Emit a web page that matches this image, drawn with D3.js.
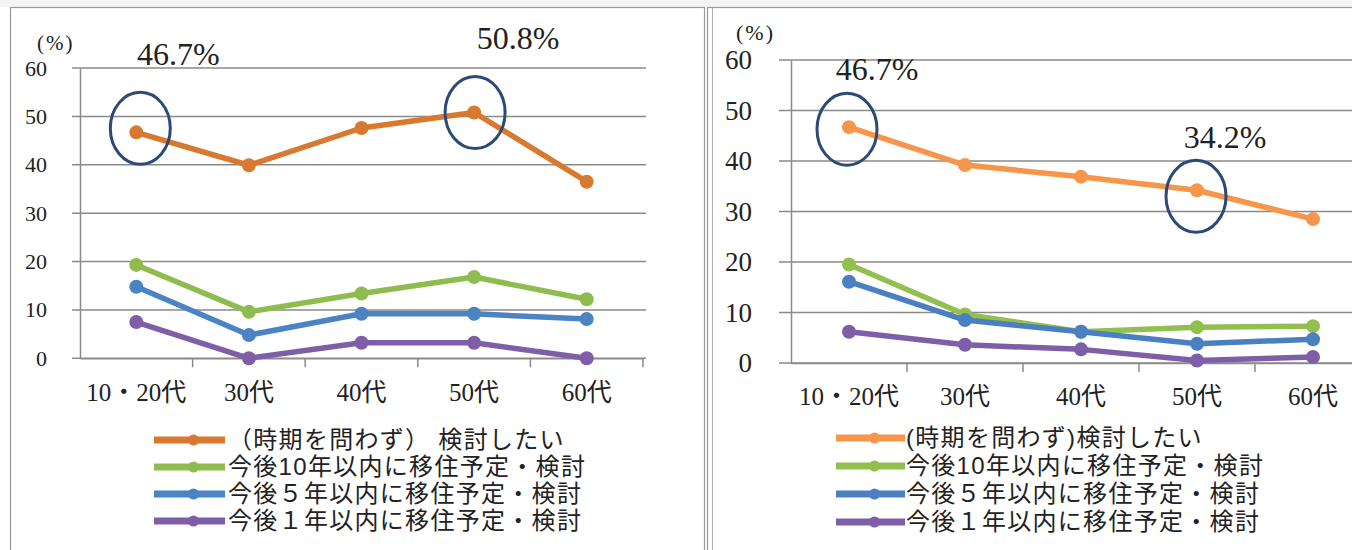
<!DOCTYPE html>
<html>
<head>
<meta charset="utf-8">
<script src="https://cdn.jsdelivr.net/npm/d3@7"></script>
<style>
  html, body { margin: 0; padding: 0; background: #ffffff; }
  svg { display: block; }
  text { fill: #222; }
  .serif { font-family: "Liberation Serif", "Times New Roman", "DejaVu Serif", "Noto Sans CJK JP", serif; }
  .legend-text { font-family: "Liberation Sans", "Noto Sans CJK JP", sans-serif; }
</style>
</head>
<body>
<svg id="chart" width="1352" height="550"></svg>
<script>
// Age groups on the x axis
const categories = ["10・20代", "30代", "40代", "50代", "60代"];
const yTicks = [0, 10, 20, 30, 40, 50, 60];

// Series labels (the two surveys word the first one slightly differently)
const leftNames = ["（時期を問わず） 検討したい", "今後10年以内に移住予定・検討", "今後５年以内に移住予定・検討", "今後１年以内に移住予定・検討"];
const rightNames = ["(時期を問わず)検討したい", "今後10年以内に移住予定・検討", "今後５年以内に移住予定・検討", "今後１年以内に移住予定・検討"];

// Left survey (%)
const leftAnyTime = [46.7, 39.9, 47.6, 50.8, 36.5];
const leftWithin10 = [19.3, 9.6, 13.4, 16.8, 12.2];
const leftWithin5 = [14.8, 4.8, 9.2, 9.2, 8.1];
const leftWithin1 = [7.5, 0.0, 3.2, 3.2, 0.0];

// Right survey (%)
const rightAnyTime = [46.7, 39.2, 36.9, 34.2, 28.5];
const rightWithin10 = [19.5, 9.6, 6.2, 7.1, 7.3];
const rightWithin5 = [16.1, 8.5, 6.2, 3.8, 4.7];
const rightWithin1 = [6.2, 3.6, 2.7, 0.5, 1.2];

// Points on the first series that get circled and labelled
const leftHighlights = [0, 3];
const rightHighlights = [0, 3];

const svg = d3.select("#chart");

// Panel frames
svg.append("rect").attr("x", 0).attr("y", 0).attr("width", 1352).attr("height", 7).attr("fill", "#f4f4f4");
svg.append("rect").attr("x", 10.5).attr("y", 7.5).attr("width", 694).attr("height", 560)
  .attr("fill", "#fff").attr("stroke", "#9a9a9a").attr("stroke-width", 1.2);
svg.append("rect").attr("x", 707.5).attr("y", 7.5).attr("width", 700).attr("height", 560)
  .attr("fill", "#fff").attr("stroke", "#9a9a9a").attr("stroke-width", 1.2);
svg.append("line").attr("x1", 712.5).attr("x2", 712.5).attr("y1", 7.5).attr("y2", 550)
  .attr("stroke", "#b0b0b0").attr("stroke-width", 1);

function drawPanel(cfg) {
  const g = svg.append("g");
  const x = d3.scaleBand().domain(categories).range([cfg.x0, cfg.x1]).padding(0);
  const y = d3.scaleLinear().domain([0, 60]).range([cfg.yBottom, cfg.yTop]);
  const cx = c => x(c) + x.bandwidth() / 2;

  // horizontal gridlines
  g.selectAll(".grid").data(yTicks).join("line")
    .attr("x1", cfg.x0 - cfg.tickLen).attr("x2", cfg.gridEnd)
    .attr("y1", d => y(d)).attr("y2", d => y(d))
    .attr("stroke", "#8a8a8a").attr("stroke-width", 1.5);

  // y axis
  const yAxis = d3.axisLeft(y).tickValues(yTicks).tickSize(0).tickPadding(cfg.x0 - cfg.yLabelRight);
  const ya = g.append("g").attr("transform", `translate(${cfg.x0},0)`).call(yAxis);
  ya.attr("font-family", null).attr("font-size", null);
  ya.select(".domain").attr("stroke", "#8a8a8a").attr("stroke-width", 1.5);
  ya.selectAll("text").attr("class", "serif").attr("font-size", cfg.yFont).attr("fill", "#222");

  // x axis: ticks at category boundaries
  const xa = g.append("g").attr("transform", `translate(0,${cfg.yBottom})`)
    .call(d3.axisBottom(x).tickSize(0).tickFormat(""));
  xa.select(".domain").attr("stroke", "#8a8a8a").attr("stroke-width", 1.5);
  const bounds = categories.map(c => x(c)).concat([cfg.x1]).slice(1);
  xa.selectAll(".bound").data(bounds).join("line")
    .attr("x1", d => d).attr("x2", d => d).attr("y1", 0).attr("y2", 9)
    .attr("stroke", "#8a8a8a").attr("stroke-width", 1.5);
  g.selectAll(".cat").data(categories).join("text")
    .attr("class", "serif")
    .attr("x", d => cx(d)).attr("y", cfg.catY)
    .attr("text-anchor", "middle").attr("font-size", cfg.catFont)
    .text(d => d);

  // unit label
  g.append("text").attr("class", "serif").attr("x", cfg.unitX).attr("y", cfg.unitY)
    .attr("font-size", cfg.unitFont).attr("letter-spacing", 2).text("(%)");

  // series lines with round markers
  const line = d3.line().x((d, i) => cx(categories[i])).y(d => y(d));
  cfg.series.forEach((s, k) => {
    const sg = g.append("g");
    sg.append("path").datum(s.values).attr("d", line)
      .attr("fill", "none").attr("stroke", s.color).attr("stroke-width", cfg.lineW)
      .attr("stroke-linejoin", "round");
    sg.selectAll("circle").data(s.values).join("circle")
      .attr("cx", (d, i) => cx(categories[i])).attr("cy", d => y(d))
      .attr("r", cfg.markR).attr("fill", s.color);
  });

  // callouts on the first series
  const first = cfg.series[0].values;
  cfg.highlights.forEach((i, n) => {
    const px = cx(categories[i]), py = y(first[i]);
    g.append("ellipse").attr("cx", px + cfg.ellDx[n]).attr("cy", py + cfg.ellDy[n])
      .attr("rx", 30).attr("ry", 36)
      .attr("fill", "none").attr("stroke", "#2c4a78").attr("stroke-width", 3);
    g.append("text").attr("class", "serif").attr("x", px + cfg.labDx[n]).attr("y", py + cfg.labDy[n])
      .attr("text-anchor", "middle").attr("font-size", cfg.calloutFont)
      .text(d3.format(".1f")(first[i]) + "%");
  });

  // legend
  const lg = g.append("g");
  cfg.series.forEach((s, k) => {
    const ly = cfg.legendY[k];
    lg.append("line").attr("x1", cfg.legX0).attr("x2", cfg.legX1).attr("y1", ly).attr("y2", ly)
      .attr("stroke", s.color).attr("stroke-width", 7);
    lg.append("circle").attr("cx", (cfg.legX0 + cfg.legX1) / 2 + 4).attr("cy", ly).attr("r", 5.5)
      .attr("fill", s.color);
    lg.append("text").attr("class", "legend-text").attr("x", cfg.legTextX).attr("y", ly + 8)
      .attr("font-size", cfg.legFont).attr("letter-spacing", 1.3)
      .text(s.name);
  });
}

const leftColors = ["#d9792f", "#8fbc4e", "#4a84c4", "#7e5ea6"];
const rightColors = ["#f7954a", "#93bf4f", "#4a80c2", "#7e5ea6"];

drawPanel({
  x0: 80, x1: 643, gridEnd: 646, yTop: 68, yBottom: 358.3, tickLen: 8,
  yLabelRight: 47, yFont: 22, catY: 401, catFont: 25,
  unitX: 37, unitY: 50, unitFont: 21,
  lineW: 5.5, markR: 7, calloutFont: 32,
  highlights: leftHighlights, ellDx: [4, 1], ellDy: [-4, 0], labDx: [42, 44], labDy: [-67, -64],
  legendY: [440, 467, 494, 521], legX0: 154, legX1: 225, legTextX: 228, legFont: 24,
  series: [
    { name: leftNames[0], values: leftAnyTime, color: leftColors[0] },
    { name: leftNames[1], values: leftWithin10, color: leftColors[1] },
    { name: leftNames[2], values: leftWithin5, color: leftColors[2] },
    { name: leftNames[3], values: leftWithin1, color: leftColors[3] }
  ]
});

drawPanel({
  x0: 791, x1: 1371, gridEnd: 1352, yTop: 60, yBottom: 363, tickLen: 12,
  yLabelRight: 752, yFont: 27, catY: 405, catFont: 25,
  unitX: 736, unitY: 40, unitFont: 22,
  lineW: 5.5, markR: 7, calloutFont: 32,
  highlights: rightHighlights, ellDx: [-2, -1], ellDy: [2, 6], labDx: [28, 28], labDy: [-47, -42],
  legendY: [438, 466, 494, 522], legX0: 836, legX1: 905, legTextX: 906, legFont: 24,
  series: [
    { name: rightNames[0], values: rightAnyTime, color: rightColors[0] },
    { name: rightNames[1], values: rightWithin10, color: rightColors[1] },
    { name: rightNames[2], values: rightWithin5, color: rightColors[2] },
    { name: rightNames[3], values: rightWithin1, color: rightColors[3] }
  ]
});
</script>
</body>
</html>
